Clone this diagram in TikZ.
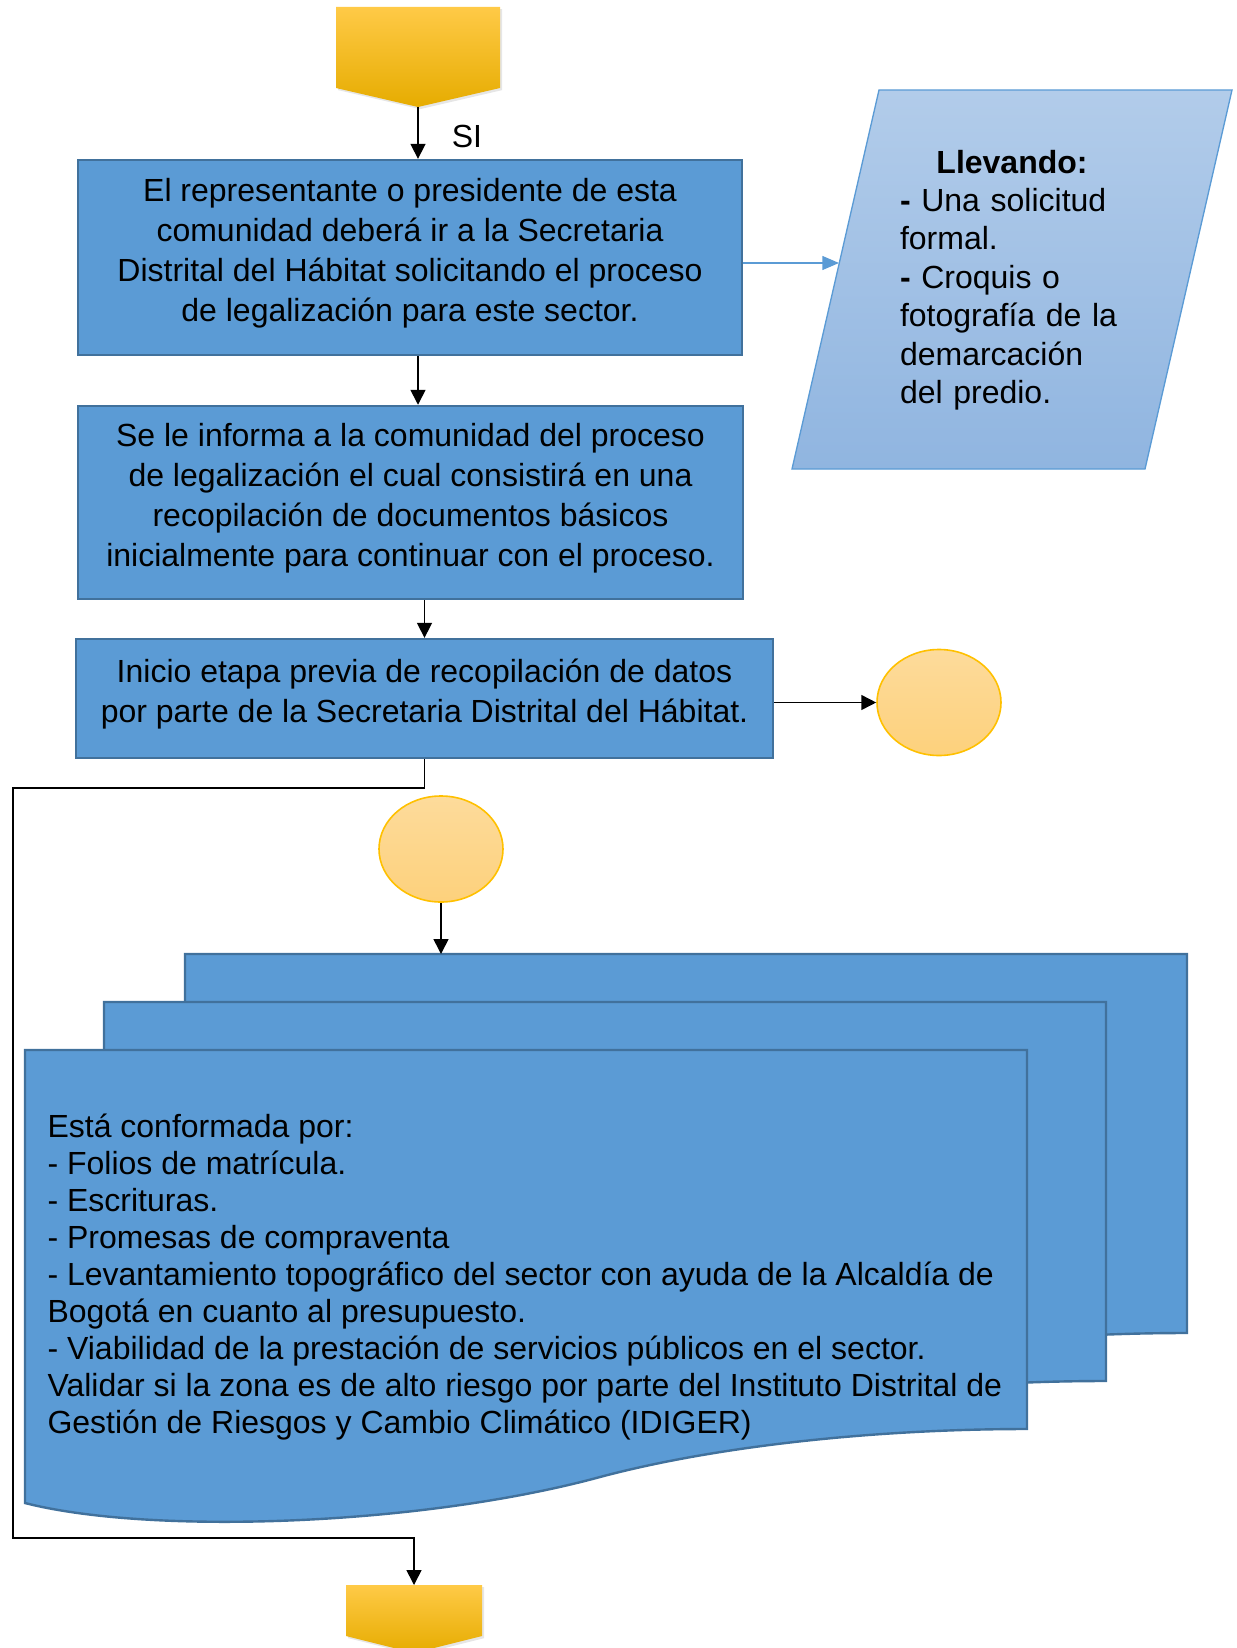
\documentclass[tikz,border=0pt]{standalone}
\usepackage{fontspec}
\setmainfont{Liberation Sans}
\usepackage{xcolor}
\usetikzlibrary{positioning,calc,shapes.geometric,arrows.meta,shadows}
\definecolor{boxfill}{HTML}{5B9BD5}
\definecolor{boxline}{HTML}{41719C}
\definecolor{goldtop}{HTML}{FFCA47}
\definecolor{goldmid}{HTML}{FFC000}
\definecolor{goldbot}{HTML}{E6AC00}
\definecolor{dottop}{HTML}{FDDB9B}
\definecolor{dotbot}{HTML}{FDD17C}
\definecolor{dotline}{HTML}{FFC000}
\definecolor{slanttop}{HTML}{B2CCEA}
\definecolor{slantbot}{HTML}{90B5E0}
\definecolor{slantline}{HTML}{5B9BD5}
\definecolor{ink}{HTML}{000000}
\tikzset{
  procbox/.style   = {draw=boxline, fill=boxfill, line width=0.9pt, inner sep=0pt, align=center,
                      text depth=5.9pt, font=\fontsize{12}{15}\selectfont\color{ink}},
  docsheet/.style  = {draw=boxline, fill=boxfill, line width=0.9pt},
  doctext/.style   = {font=\fontsize{12}{13.9}\selectfont\color{ink}, align=left, inner sep=0pt},
  slant/.style     = {draw=slantline, line width=0.5pt, top color=slanttop, bottom color=slantbot},
  slanttext/.style = {font=\fontsize{12}{14.4}\selectfont\color{ink}, text width=84pt, align=left, inner sep=0pt},
  connpoint/.style = {ellipse, draw=dotline, line width=0.6pt, top color=dottop, bottom color=dotbot,
                      inner sep=0pt, minimum width=46.5pt, minimum height=39.75pt},
  offpage/.style   = {top color=goldtop, middle color=goldmid, bottom color=goldbot,
                      drop shadow={opacity=0.2, shadow xshift=0.8pt, shadow yshift=-0.8pt}},
  lab/.style       = {font=\fontsize{12}{14}\selectfont\color{ink}, inner sep=0pt},
  flow/.style      = {-{Triangle[length=5.6pt,width=5.6pt]}, draw=ink, line width=0.6pt},
  blueflow/.style  = {-{Triangle[length=6.2pt,width=5.2pt]}, draw=slantline, line width=0.5pt},
}

\begin{document}
\begin{tikzpicture}[x=0.375pt,y=-0.375pt]
\path[use as bounding box] (0,0) rectangle (1236,1648);

% ---------- off-page connectors -----------------------------------------
\path[offpage] (336,7) -- (500,7) -- (500,88) -- (418,107) -- (336,88) -- cycle;
\coordinate (topTip) at (418,107);

\path[offpage] (346,1585) -- (482,1585) -- (482,1636) -- (414,1653) -- (346,1636) -- cycle;
\coordinate (endTop) at (414,1585);

% ---------- process boxes -----------------------------------------------
\node[procbox, minimum width=249pt, minimum height=73.1pt] (ask) at (410,257.5)
  {El representante o presidente de esta\\comunidad deberá ir a la Secretaria\\
   Distrital del Hábitat solicitando el proceso\\de legalización para este sector.};
\node[procbox, minimum width=249.4pt, minimum height=72.4pt] (inform) at (410.5,502.5)
  {Se le informa a la comunidad del proceso\\de legalización el cual consistirá en una\\
   recopilación de documentos básicos\\inicialmente para continuar con el proceso.};
\node[procbox, minimum width=261.4pt, minimum height=44.6pt] (prev) at (424.5,698.5)
  {Inicio etapa previa de recopilación de datos\\por parte de la Secretaria Distrital del Hábitat.};

% ---------- what to bring -----------------------------------------------
\path[slant] (879,90) -- (1232,90) -- (1145,469) -- (792,469) -- cycle;
\node[slanttext] (carry) at (1012,280)
  {\makebox[\linewidth]{\textbf{Llevando:}}\\
   \textbf{-} Una solicitud\\formal.\\
   \textbf{-} Croquis o\\fotografía de la\\demarcación\\del predio.};
\coordinate (carryIn) at (839,263);

% ---------- on-page connectors ------------------------------------------
\node[connpoint] (offA) at (939,702.5) {};
\node[connpoint] (onA)  at (441,849) {};

% ---------- the document stack ------------------------------------------
\tikzset{
  docpage/.pic={
    \path[docsheet] (0,0) -- (1002,0) -- (1002,379)
      .. controls (855,379) and (695,395) .. (575,427)
      .. controls (395,476) and (125,485) .. (0,453) -- cycle;
  }
}
\pic at (185,954)  {docpage};
\pic at (104,1002) {docpage};
\pic at (25,1050)  {docpage};
\coordinate (docsTop) at (441,954);

\node[doctext, anchor=west] (docs) at (47,1277)
  {Está conformada por:\\
   - Folios de matrícula.\\
   - Escrituras.\\
   - Promesas de compraventa\\
   - Levantamiento topográfico del sector con ayuda de la Alcaldía de\\
   Bogotá en cuanto al presupuesto.\\
   - Viabilidad de la prestación de servicios públicos en el sector.\\
   Validar si la zona es de alto riesgo por parte del Instituto Distrital de\\
   Gestión de Riesgos y Cambio Climático (IDIGER)};

% ---------- arrows ------------------------------------------------------
\draw[flow] (topTip) -- (topTip |- ask.north);
\node[lab] (si) at (467,136) {SI};
\draw[flow] (ask.south -| topTip) -- (inform.north -| topTip);
\draw[flow] (inform.south -| prev.north) -- (prev.north);
\draw[blueflow] (carryIn -| ask.east) -- (carryIn);
\draw[flow] (prev.east |- offA.west) -- (offA.west);
\draw[flow] (onA.south) -- (docsTop);

\coordinate (loopL) at (13,788);
\coordinate (loopB) at (13,1538);
\draw[flow] (prev.south) |- (loopL) -- (loopB) -| (endTop);

\end{tikzpicture}
\end{document}
